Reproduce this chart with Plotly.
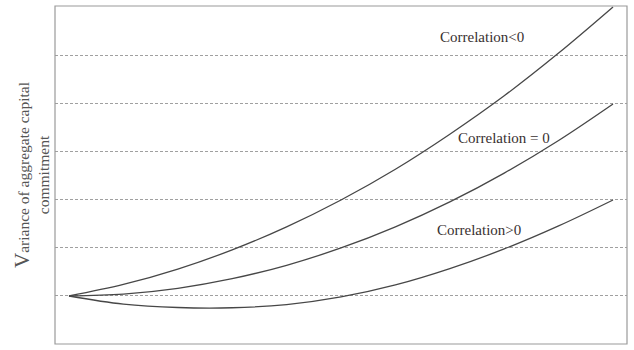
import plotly.graph_objects as go

# Data (x in arbitrary units 0..10, y in gridline units)
x_vals = [0, 1, 2, 3, 4, 5, 6, 7, 8, 9, 10]
y_neg = [1, 1.24, 1.56, 1.96, 2.44, 3.0, 3.64, 4.37, 5.17, 6.06, 7.02]
y_zero = [1, 1.04, 1.16, 1.36, 1.64, 2.0, 2.44, 2.96, 3.56, 4.24, 5.0]
y_pos = [1, 0.83, 0.76, 0.755, 0.82, 0.98, 1.23, 1.57, 1.98, 2.46, 3.0]

labels = ["Correlation<0", "Correlation = 0", "Correlation>0"]
label_x = [7.6, 8.0, 7.54]
label_y = [6.40, 4.29, 2.375]

line_color = "#474747"
fig = go.Figure()
for ys in [y_neg, y_zero, y_pos]:
    fig.add_trace(go.Scatter(x=x_vals, y=ys, mode="lines",
                             line=dict(color=line_color, width=1.3, shape="spline", smoothing=1.0),
                             showlegend=False, hoverinfo="skip"))

for t, lx, ly in zip(labels, label_x, label_y):
    fig.add_annotation(x=lx, y=ly, text=t, showarrow=False,
                       font=dict(family="Liberation Serif", size=15, color="#383030"),
                       xanchor="center", yanchor="middle")

fig.add_annotation(xref="paper", yref="paper", x=-0.042, y=0.5,
                   text="<span style='font-size:21px'>V</span>ariance of aggregate capital<br>commitment",
                   textangle=-90, showarrow=False, xanchor="center", yanchor="middle",
                   font=dict(family="Liberation Serif", size=15.5, color="#555555"))

fig.add_shape(type="rect", xref="paper", yref="paper", x0=0, x1=1, y0=0, y1=1,
              line=dict(color="#9a9a9a", width=1.2))

fig.update_layout(
    width=634, height=350,
    margin=dict(l=55, r=7, t=6, b=6),
    paper_bgcolor="white", plot_bgcolor="white",
    xaxis=dict(range=[-0.257, 10.257], showgrid=False, zeroline=False, showticklabels=False, ticks=""),
    yaxis=dict(range=[0, 7.04], tickvals=[1, 2, 3, 4, 5, 6], showgrid=True,
               gridcolor="#a0a0a0", griddash="3px,2px", gridwidth=1,
               zeroline=False, showticklabels=False, ticks=""),
)
fig.write_html("out.html")
